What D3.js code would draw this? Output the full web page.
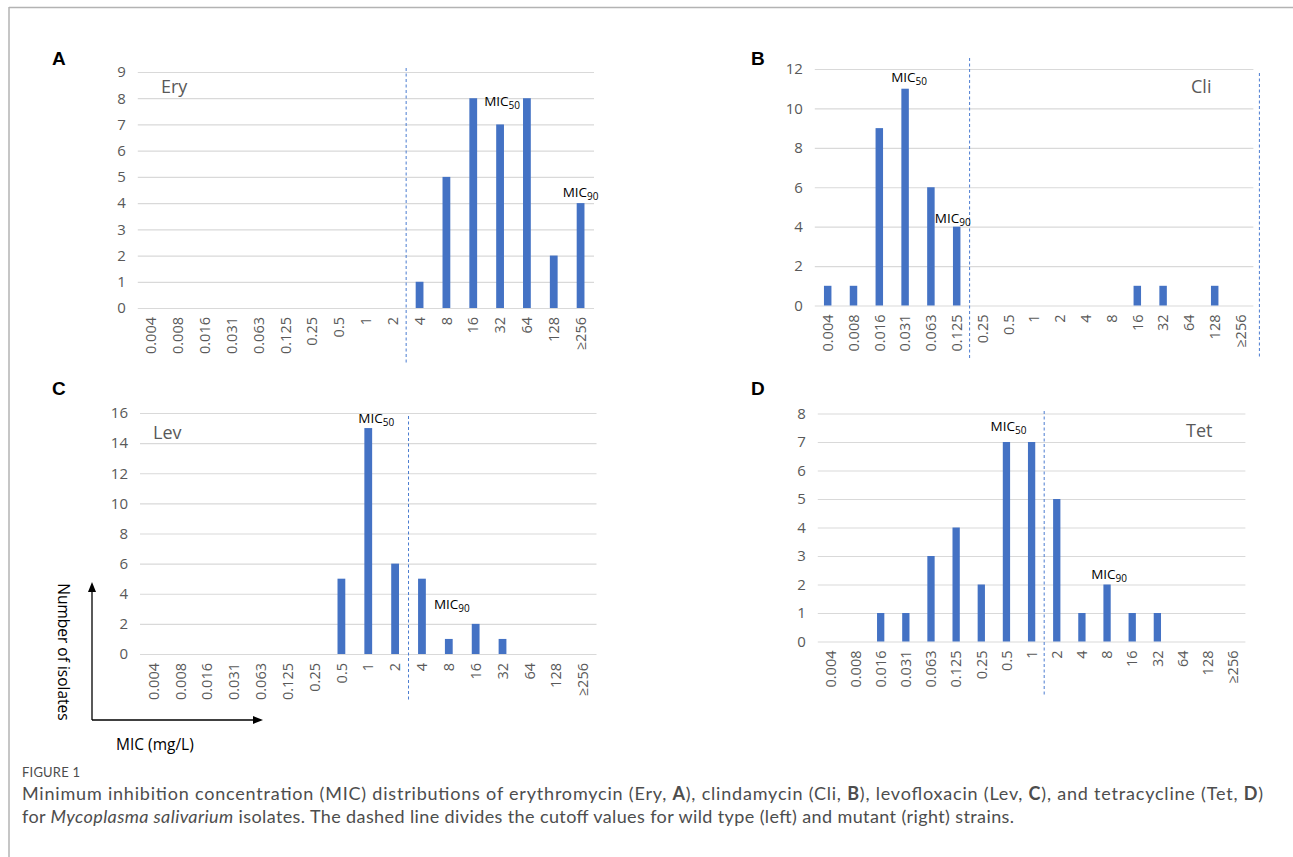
<!DOCTYPE html>
<html>
<head>
<meta charset="utf-8">
<script src="https://cdn.jsdelivr.net/npm/d3@7"></script>
<style>
  body { margin: 0; background: #fff; }
  svg { display: block; }
  .tick text { font-family: "Open Sans", sans-serif; }
</style>
</head>
<body>
<div id="fig"></div>
<script>
// MIC categories (mg/L), shared by the four panels
const mic = ["0.004","0.008","0.016","0.031","0.063","0.125","0.25","0.5","1","2","4","8","16","32","64","128","≥256"];

// number of isolates per MIC
const ery = [0,0,0,0,0,0,0,0,0,0,1,5,8,7,8,2,4];
const cli = [1,1,9,11,6,4,0,0,0,0,0,0,1,1,0,1,0];
const lev = [0,0,0,0,0,0,0,5,15,6,5,1,2,1,0,0,0];
const tet = [0,0,1,1,3,4,2,7,7,5,1,2,1,1,0,0,0];

// y axis ticks
const yTicksA = [0,1,2,3,4,5,6,7,8,9];
const yTicksB = [0,2,4,6,8,10,12];
const yTicksC = [0,2,4,6,8,10,12,14,16];
const yTicksD = [0,1,2,3,4,5,6,7,8];

// cutoff between wild type and mutant (first mutant category)
const cutA = ["4"];
const cutB = ["0.25", "end"];
const cutC = ["4"];
const cutD = ["2"];

// MIC50 / MIC90 annotations: category, value it sits on
const micA = [{sub:"50", cat:"32", val:7}, {sub:"90", cat:"≥256", val:4}];
const micB = [{sub:"50", cat:"0.031", val:11}, {sub:"90", cat:"0.125", val:4}];
const micC = [{sub:"50", cat:"1", val:15}, {sub:"90", cat:"8", val:3}];
const micD = [{sub:"50", cat:"0.5", val:7}, {sub:"90", cat:"8", val:2}];

const W = 1293, H = 857;
const blue = "#4472c4";
const grey = "#595959";

const panels = [
  {letter:"A", drug:"Ery", counts:ery, ticks:yTicksA, cuts:cutA, notes:micA,
   x0:137.8, x1:594, y0:308, y1:72, lx:52, ly:65, dx:161, dy:93,
   cutTop:68, cutBot:365, noteOff:[[2,-18],[0,-6]]},
  {letter:"B", drug:"Cli", counts:cli, ticks:yTicksB, cuts:cutB, notes:micB,
   x0:814.8, x1:1253.4, y0:305.5, y1:69, lx:751, ly:65, dx:1191, dy:93,
   cutTop:58, cutBot:358, cutTop2:73, noteOff:[[4,-7],[-4,-4]]},
  {letter:"C", drug:"Lev", counts:lev, ticks:yTicksC, cuts:cutC, notes:micC,
   x0:140, x1:596.5, y0:654, y1:413, lx:52, ly:395, dx:153, dy:439,
   cutTop:416, cutBot:700, noteOff:[[8,-5],[3,0]]},
  {letter:"D", drug:"Tet", counts:tet, ticks:yTicksD, cuts:cutD, notes:micD,
   x0:817.8, x1:1245.4, y0:641.5, y1:413.5, lx:751, ly:395, dx:1186, dy:437,
   cutTop:411, cutBot:697, noteOff:[[2,-11],[2,-6]]}
];

const svg = d3.select("#fig").append("svg")
  .attr("width", W).attr("height", H)
  .style("font-family", "'Open Sans', sans-serif");

// frame lines of the page
svg.append("line").attr("x1", 9).attr("x2", W).attr("y1", 7.5).attr("y2", 7.5)
  .attr("stroke", "#b3b3b3").attr("stroke-width", 1.5);
svg.append("line").attr("x1", 9).attr("x2", 9).attr("y1", 7).attr("y2", H)
  .attr("stroke", "#b3b3b3").attr("stroke-width", 1.5);

panels.forEach(p => {
  const x = d3.scaleBand().domain(mic).range([p.x0, p.x1]);
  const y = d3.scaleLinear().domain([0, d3.max(p.ticks)]).range([p.y0, p.y1]);
  const step = x.step();
  const g = svg.append("g");

  // gridlines + y labels
  const ya = g.append("g")
    .attr("transform", `translate(${p.x0},0)`)
    .call(d3.axisLeft(y).tickValues(p.ticks).tickSize(-(p.x1 - p.x0)).tickPadding(12));
  ya.select(".domain").remove();
  ya.selectAll(".tick line").attr("stroke", "#d9d9d9").attr("stroke-width", 1.2);
  ya.selectAll(".tick text").attr("fill", grey).style("font-size", "15px");

  // x labels, rotated
  g.selectAll(".xl").data(mic).join("text")
    .attr("class", "xl")
    .attr("transform", d => `translate(${x(d) + step / 2},${p.y0 + 9}) rotate(-90)`)
    .attr("text-anchor", "end")
    .attr("dy", "0.36em")
    .attr("fill", grey)
    .style("font-size", "14.5px")
    .text(d => d);

  // bars
  g.selectAll(".bar").data(p.counts.map((v, i) => ({c: mic[i], v})).filter(d => d.v > 0))
    .join("rect")
    .attr("x", d => x(d.c) + step * 0.355)
    .attr("width", step * 0.29)
    .attr("y", d => y(d.v))
    .attr("height", d => p.y0 - y(d.v))
    .attr("fill", blue);

  // dashed cutoff lines
  p.cuts.forEach((c, k) => {
    const cx = c === "end" ? p.x1 + 6 : x(c);
    g.append("line")
      .attr("x1", cx).attr("x2", cx)
      .attr("y1", k === 1 ? p.cutTop2 : p.cutTop).attr("y2", p.cutBot)
      .attr("stroke", "#4a7bd0").attr("stroke-width", 1)
      .attr("stroke-dasharray", "3,2.5");
  });

  // panel letter
  g.append("text").attr("x", p.lx).attr("y", p.ly)
    .style("font-family", "'Liberation Sans', Arial, sans-serif")
    .style("font-weight", "bold").style("font-size", "19px")
    .attr("fill", "#000").text(p.letter);

  // drug name
  g.append("text").attr("x", p.dx).attr("y", p.dy)
    .style("font-size", "18px").attr("fill", grey).text(p.drug);

  // MIC50 / MIC90
  p.notes.forEach((n, k) => {
    const t = g.append("text")
      .attr("x", x(n.cat) + step / 2 + p.noteOff[k][0])
      .attr("y", y(n.val) + p.noteOff[k][1])
      .attr("text-anchor", "middle")
      .style("font-size", "13.5px").attr("fill", "#000");
    t.append("tspan").text("MIC");
    t.append("tspan").attr("dy", 3).style("font-size", "10px").text(n.sub);
  });
});

// axis arrows beside panel C
const arrowY = 720, arrowX = 92;
const ax = svg.append("g").attr("stroke", "#000").attr("fill", "#000");
ax.append("line").attr("x1", arrowX).attr("x2", arrowX).attr("y1", arrowY).attr("y2", 591).attr("stroke-width", 1.3);
ax.append("path").attr("d", `M${arrowX - 4},${592} L${arrowX},${582} L${arrowX + 4},${592} Z`).attr("stroke", "none");
ax.append("line").attr("x1", arrowX).attr("x2", 254).attr("y1", arrowY).attr("y2", arrowY).attr("stroke-width", 1.3);
ax.append("path").attr("d", `M${253},${arrowY - 4} L${263},${arrowY} L${253},${arrowY + 4} Z`).attr("stroke", "none");

svg.append("text")
  .attr("transform", `translate(58,652) rotate(90)`)
  .attr("text-anchor", "middle")
  .style("font-size", "15.5px").attr("fill", "#000")
  .text("Number of isolates");
svg.append("text").attr("x", 116).attr("y", 750)
  .style("font-size", "15.5px").attr("fill", "#000")
  .text("MIC (mg/L)");

// caption
const cap = svg.append("g").style("font-family", "Lato, sans-serif").attr("fill", "#4d4d4d");
cap.append("text").attr("x", 22).attr("y", 777)
  .style("font-size", "13px").style("letter-spacing", "0.2px").text("FIGURE 1");

const line1 = cap.append("text").attr("x", 22).attr("y", 800).style("font-size", "18px")
  .attr("textLength", 1241).attr("lengthAdjust", "spacing");
[["Minimum inhibition concentration (MIC) distributions of erythromycin (Ery, ", ""],
 ["A", "b"], ["), clindamycin (Cli, ", ""], ["B", "b"], ["), levofloxacin (Lev, ", ""],
 ["C", "b"], ["), and tetracycline (Tet, ", ""], ["D", "b"], [")", ""]]
  .forEach(([s, f]) => line1.append("tspan").style("font-weight", f === "b" ? "bold" : null).text(s));

const line2 = cap.append("text").attr("x", 22).attr("y", 823).style("font-size", "18px")
  .attr("textLength", 992).attr("lengthAdjust", "spacing");
line2.append("tspan").text("for ");
line2.append("tspan").style("font-style", "italic").text("Mycoplasma salivarium");
line2.append("tspan").text(" isolates. The dashed line divides the cutoff values for wild type (left) and mutant (right) strains.");
</script>
</body>
</html>
